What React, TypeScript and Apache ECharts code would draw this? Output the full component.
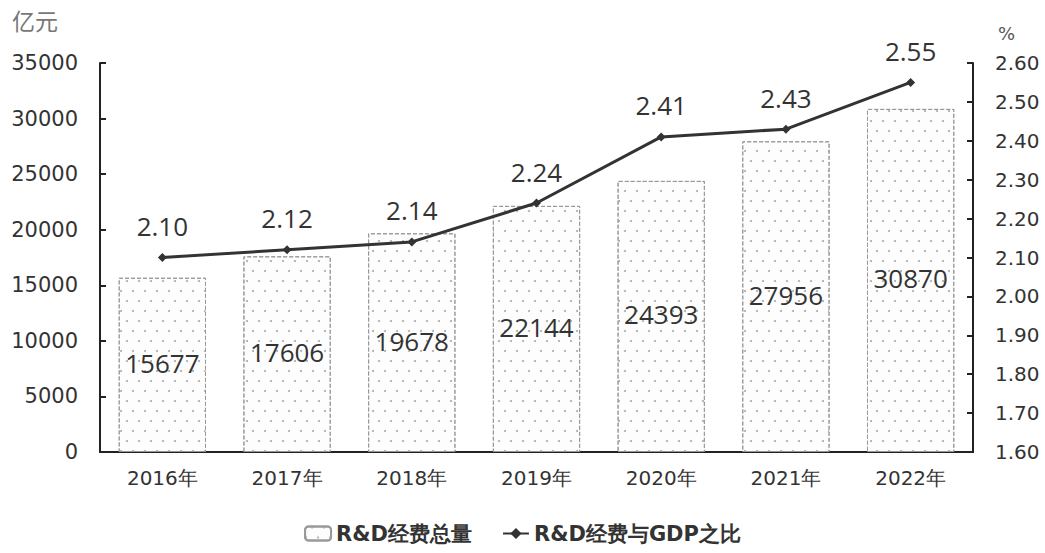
import React, { useEffect, useRef } from "react";
import * as echarts from "echarts";

const categories = ["2016年", "2017年", "2018年", "2019年", "2020年", "2021年", "2022年"];
const rdTotal = [15677, 17606, 19678, 22144, 24393, 27956, 30870];
const rdRatio = [2.1, 2.12, 2.14, 2.24, 2.41, 2.43, 2.55];
const leftUnit = "亿元";
const rightUnit = "%";
const barName = "R&D经费总量";
const lineName = "R&D经费与GDP之比";

export default function App() {
  const ref = useRef<HTMLDivElement>(null);
  useEffect(() => {
    if (!ref.current) return;
    const chart = echarts.init(ref.current, null, { renderer: "svg" });
    const axisLine = { show: true, lineStyle: { color: "#222", width: 2 } };
    chart.setOption({
      animation: false,
      backgroundColor: "#fff",
      textStyle: { fontFamily: "DejaVu Sans" },
      grid: { left: 100, right: 72, top: 63, bottom: 101 },
      legend: {
        bottom: 4,
        left: "center",
        itemGap: 30,
        itemWidth: 26,
        itemHeight: 14,
        textStyle: { fontSize: 21, color: "#333", fontWeight: "bold", fontFamily: "DejaVu Sans" },
        data: [barName, lineName],
      },
      graphic: [
        { type: "text", left: 12, top: 8, style: { text: leftUnit, fontSize: 23, fill: "#777", fontFamily: "Noto Sans CJK SC" } },
        { type: "text", left: 998, top: 24, style: { text: rightUnit, fontSize: 18, fill: "#555", fontFamily: "DejaVu Sans" } },
      ],
      xAxis: {
        type: "category",
        data: categories,
        axisLine,
        axisTick: { show: false },
        axisLabel: { fontSize: 20, color: "#333", margin: 16, fontFamily: "DejaVu Sans" },
      },
      yAxis: [
        {
          type: "value",
          min: 0,
          max: 35000,
          interval: 5000,
          axisLine,
          axisTick: { show: true, inside: true, length: 6, lineStyle: { color: "#222", width: 2 } },
          splitLine: { show: false },
          axisLabel: { fontSize: 21, color: "#333", margin: 22, formatter: (v: number) => String(v) },
        },
        {
          type: "value",
          min: 1.6,
          max: 2.6,
          interval: 0.1,
          axisLine,
          axisTick: { show: true, inside: true, length: 6, lineStyle: { color: "#222", width: 2 } },
          splitLine: { show: false },
          axisLabel: { fontSize: 20, color: "#333", margin: 22, formatter: (v: number) => v.toFixed(2) },
        },
      ],
      series: [
        {
          name: barName,
          type: "bar",
          data: rdTotal,
          barWidth: "70%",
          itemStyle: {
            color: "#fdfdfd",
            borderColor: "#999",
            borderWidth: 1,
            borderType: "dashed",
            decal: {
              symbol: "circle",
              symbolSize: 1,
              color: "#aaa",
              dashArrayX: [[2, 10], [0, 6, 2, 4]],
              dashArrayY: [2, 8],
              rotation: 0,
            },
          },
          label: {
            show: true,
            position: "inside",
            fontSize: 26,
            color: "#333",
            fontFamily: "Open Sans",
            offset: [0, -2],
          },
        },
        {
          name: lineName,
          type: "line",
          yAxisIndex: 1,
          data: rdRatio,
          symbol: "diamond",
          symbolSize: 9,
          lineStyle: { color: "#333", width: 3 },
          itemStyle: { color: "#333" },
          label: {
            show: true,
            position: "top",
            distance: 14,
            fontSize: 26,
            color: "#333",
            fontFamily: "Open Sans",
            formatter: (p: any) => Number(p.value).toFixed(2),
          },
        },
      ],
    });
    return () => chart.dispose();
  }, []);
  return <div ref={ref} style={{ width: 1045, height: 553, position: "absolute", left: 0, top: 0 }} />;
}
